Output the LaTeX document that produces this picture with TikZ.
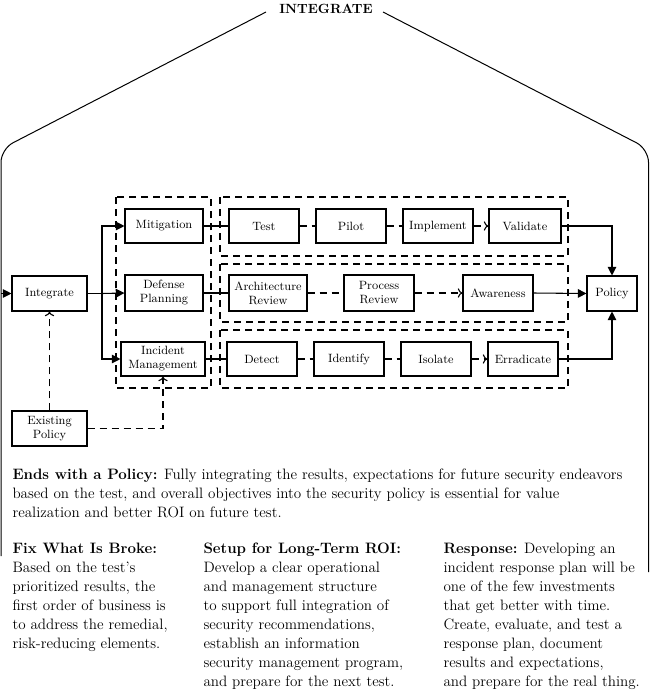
\documentclass[tikz,border=0pt]{standalone}
\usepackage{tikz}
\usetikzlibrary{arrows.meta}
\tikzset{
  stage/.style={draw, line width=0.8pt, minimum width=52.5pt, minimum height=25.5pt, align=center, inner sep=1pt},
  group/.style={draw, line width=0.8pt, dash pattern=on 5.25pt off 3.75pt},
  link/.style={line width=0.8pt, dash pattern=on 5.25pt off 3.75pt},
  feed/.style={-{Triangle[length=6.5pt, width=6.5pt]}},
  note/.style={anchor=base west, align=left, inner sep=0pt, font=\fontsize{11.3}{14.25}\selectfont},
}

\begin{document}
\begin{tikzpicture}[x=0.75pt, y=-0.75pt, >={To[length=3.5pt, width=7pt]}, line width=0.8pt]
\useasboundingbox (0,0) rectangle (650,693);
%
\fontsize{9}{10.5}\selectfont
%
\node (Int) [stage, minimum width=56.25pt, minimum height=26.25pt] at (49.5,293.5) {Integrate};
\node (Exist) [stage, minimum width=56.25pt, minimum height=26.25pt] at (49.5,428.5) {Existing\\Policy};
\node (Mit) [stage, minimum width=58.5pt] at (164,226) {Mitigation};
\node (Def) [stage, minimum width=58.5pt, minimum height=27pt] at (164,293) {Defense\\Planning};
\node (Inc) [stage, minimum width=63pt] at (163,359) {Incident\\Management};
%
\node (Test) [stage, right of=Mit, node distance=75pt] {Test};
\node (Pilot) [stage, right of=Test, node distance=65.25pt] {Pilot};
\node (Impl) [stage, right of=Pilot, node distance=65.25pt] {Implement};
\node (Val) [stage, right of=Impl, node distance=65.25pt, minimum width=54pt] {Validate};
%
\node (Arch) [stage, right of=Def, node distance=78pt, minimum width=58.5pt, minimum height=27pt] {Architecture\\Review};
\node (Proc) [stage, right of=Arch, node distance=83.25pt, minimum height=27pt] {Process\\Review};
\node (Aware) [stage, right of=Proc, node distance=89.25pt, minimum height=27pt] {Awareness};
%
\node (Det) [stage, right of=Inc, node distance=74.25pt] {Detect};
\node (Ident) [stage, right of=Det, node distance=65.25pt] {Identify};
\node (Iso) [stage, right of=Ident, node distance=65.25pt] {Isolate};
\node (Erad) [stage, right of=Iso, node distance=65.25pt] {Erradicate};
%
\node (Pol) [stage, minimum width=37.5pt, minimum height=26.25pt] at (612,293.5) {Policy};
%
\draw[group] (116,197) rectangle (211,388);
\draw[group] (220,197) rectangle (568,256);
\draw[group] (220,264) rectangle (568,322);
\draw[group] (220,330) rectangle (568,388);
%
\coordinate (entry) at (1,293.5);
\coordinate (split) at (102,293.5);
\draw[feed] (entry) -- (Int.west);
\draw (Int.east) -- (split);
\draw[feed] (split) |- (Mit.west);
\draw[feed] (split) -- (Def.west);
\draw[feed] (split) |- (Inc.west);
\draw[link, ->] (Exist.north) -- (Int.south);
\draw[link, ->] (Exist.east) -| (Inc.south);
%
\draw (Mit) -- (Test);
\draw (Def) -- (Arch);
\draw (Inc) -- (Det);
\draw[link] (Test) -- (Pilot);
\draw[link] (Pilot) -- (Impl);
\draw[link, ->] (Impl) -- (Val);
\draw[link] (Arch) -- (Proc);
\draw[link, ->] (Proc) -- (Aware);
\draw[link] (Det) -- (Ident);
\draw[link] (Ident) -- (Iso);
\draw[link, ->] (Iso) -- (Erad);
%
\draw[feed] (Val.east) -| (Pol.north);
\draw[feed] (Aware.east) -- (Pol.west);
\draw[feed] (Erad.east) -| (Pol.south);
%
\draw[line width=0.75pt, rounded corners=10pt] (1,556) -- (1,149) -- (266,12);
\draw[line width=0.75pt, rounded corners=10pt] (383,12) -- (648.5,149) -- (648.5,572);
\node (title) [anchor=base, inner sep=0pt, font=\bfseries\fontsize{10}{12}\selectfont] at (326,13) {INTEGRATE};
%
% anchor base west = last line of each note
\node (ends) [note] at (12,517) {\textbf{Ends with a Policy:} Fully integrating the results, expectations for future security endeavors\\
based on the test, and overall objectives into the security policy is essential for value\\
realization and better ROI on future test.};
\node (fix) [note] at (12,648) {\textbf{Fix What Is Broke:}\\
Based on the test's\\
prioritized results, the\\
first order of business is\\
to address the remedial,\\
risk-reducing elements.};
\node (setup) [note] at (203,686) {\textbf{Setup for Long-Term ROI:}\\
Develop a clear operational\\
and management structure\\
to support full integration of\\
security recommendations,\\
establish an information\\
security management program,\\
and prepare for the next test.};
\node (resp) [note] at (443,686) {\textbf{Response:} Developing an\\
incident response plan will be\\
one of the few investments\\
that get better with time.\\
Create, evaluate, and test a\\
response plan, document\\
results and expectations,\\
and prepare for the real thing.};
\end{tikzpicture}
\end{document}
